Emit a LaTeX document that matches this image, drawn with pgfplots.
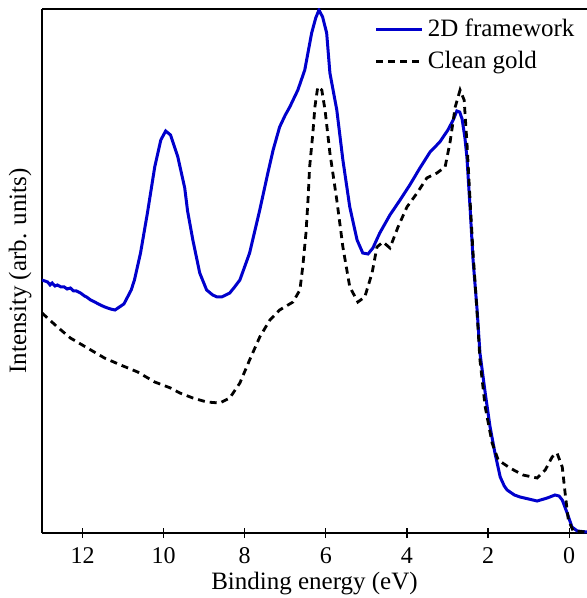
\documentclass[border=0pt]{standalone}
\usepackage{fontspec}
\setmainfont{Liberation Serif}
\usepackage{pgfplots}
\pgfplotsset{compat=1.18}
\definecolor{specblue}{rgb}{0,0,0.8}
\begin{document}
\fontsize{12.5}{15}\selectfont
\begin{tikzpicture}
\useasboundingbox (-21pt,-32.5pt) rectangle (272.5pt,266.5pt);
\begin{axis}[
  scale only axis,
  width=272.5pt, height=262pt,
  x dir=reverse,
  xmin=-0.44, xmax=13.0,
  ymin=0, ymax=524,
  axis x line=box,
  axis y line=left,
  y axis line style={-},
  axis line style={line width=0.8pt},
  xtick={0,2,4,6,8,10,12},
  ytick=\empty,
  xtick align=center,
  xtick pos=bottom,
  major tick length=5pt,
  every tick/.style={black, line width=0.6pt},
  /pgf/number format/assume math mode=true,
  xticklabel style={yshift=-2.6pt, font=\fontsize{12}{13}\selectfont, inner ysep=2pt},
  xlabel={Binding energy (eV)},
  ylabel={Intensity (arb. units)},
  ylabel style={at={(axis description cs:-0.04,0.5)}, anchor=center},
  xlabel style={at={(axis description cs:0.5,0)}, anchor=base, yshift=-28pt, inner ysep=1pt},
  legend cell align=left,
  legend style={draw=none, fill=none, at={(rel axis cs:0.985,0.99)}, anchor=north east, inner sep=0pt, row sep=1.5pt},
  legend image code/.code={\draw[#1] (0pt,0pt) -- (23pt,0pt);},
  clip=true,
]
\addplot[color=specblue, line width=1.5pt] coordinates {
(13.00,253) (12.93,252) (12.86,251) (12.80,248) (12.75,250) (12.68,247) (12.62,248) (12.53,246) (12.45,246) (12.38,244) (12.30,245) (12.22,242) (12.15,242) (12.05,240) (11.95,237) (11.90,236) (11.80,233) (11.70,231) (11.56,228) (11.45,226) (11.31,224) (11.20,223) (11.09,226) (10.98,229) (10.89,236) (10.80,243) (10.72,253) (10.57,280) (10.40,320) (10.22,366) (10.07,393) (9.95,402) (9.83,398) (9.65,376) (9.48,345) (9.41,322) (9.28,293) (9.11,260) (8.94,243) (8.79,238) (8.68,236) (8.57,236) (8.37,240) (8.25,246) (8.12,253) (7.88,280) (7.63,323) (7.43,360) (7.30,383) (7.14,406) (7.00,418) (6.89,426) (6.69,443) (6.52,463) (6.35,500) (6.25,515) (6.17,523) (6.08,516) (5.98,500) (5.90,460) (5.73,423) (5.58,373) (5.41,326) (5.23,293) (5.09,280) (4.96,279) (4.84,285) (4.67,300) (4.42,318) (4.17,333) (3.93,348) (3.68,365) (3.43,381) (3.19,391) (2.99,403) (2.86,413) (2.77,422) (2.70,421) (2.64,414) (2.57,395) (2.52,375) (2.44,323) (2.37,273) (2.27,223) (2.20,180) (2.07,140) (1.95,106) (1.83,80) (1.70,56) (1.60,47) (1.53,43) (1.35,38) (1.21,36) (1.00,34) (0.79,32) (0.54,35) (0.35,38) (0.25,37) (0.17,33) (0.05,20) (-0.07,6) (-0.20,2) (-0.44,1)
};
\addlegendentry{2D framework}
\addplot[color=black, line width=1.4pt, dash pattern=on 3.5pt off 2.5pt] coordinates {
(13.00,220) (12.62,206) (12.30,195) (11.88,185) (11.46,175) (11.06,168) (10.64,161) (10.22,151) (9.83,145) (9.60,140) (9.28,135) (8.94,131) (8.62,130) (8.37,135) (8.12,150) (7.88,173) (7.63,196) (7.38,213) (7.14,223) (6.81,231) (6.64,243) (6.57,266) (6.49,300) (6.44,333) (6.40,366) (6.32,400) (6.27,426) (6.20,446) (6.10,443) (6.02,423) (5.90,380) (5.73,333) (5.58,286) (5.41,246) (5.21,231) (5.04,236) (4.86,260) (4.74,286) (4.59,291) (4.42,285) (4.22,306) (4.00,326) (3.75,340) (3.51,355) (3.26,360) (3.06,366) (2.94,390) (2.81,426) (2.69,443) (2.59,433) (2.52,390) (2.44,330) (2.37,280) (2.27,220) (2.20,173) (2.07,126) (1.90,90) (1.75,73) (1.46,65) (1.14,58) (0.79,55) (0.59,63) (0.42,76) (0.30,80) (0.17,66) (0.10,40) (0.02,13) (-0.10,2) (-0.44,1)
};
\addlegendentry{Clean gold}
\end{axis}
\end{tikzpicture}
\end{document}
